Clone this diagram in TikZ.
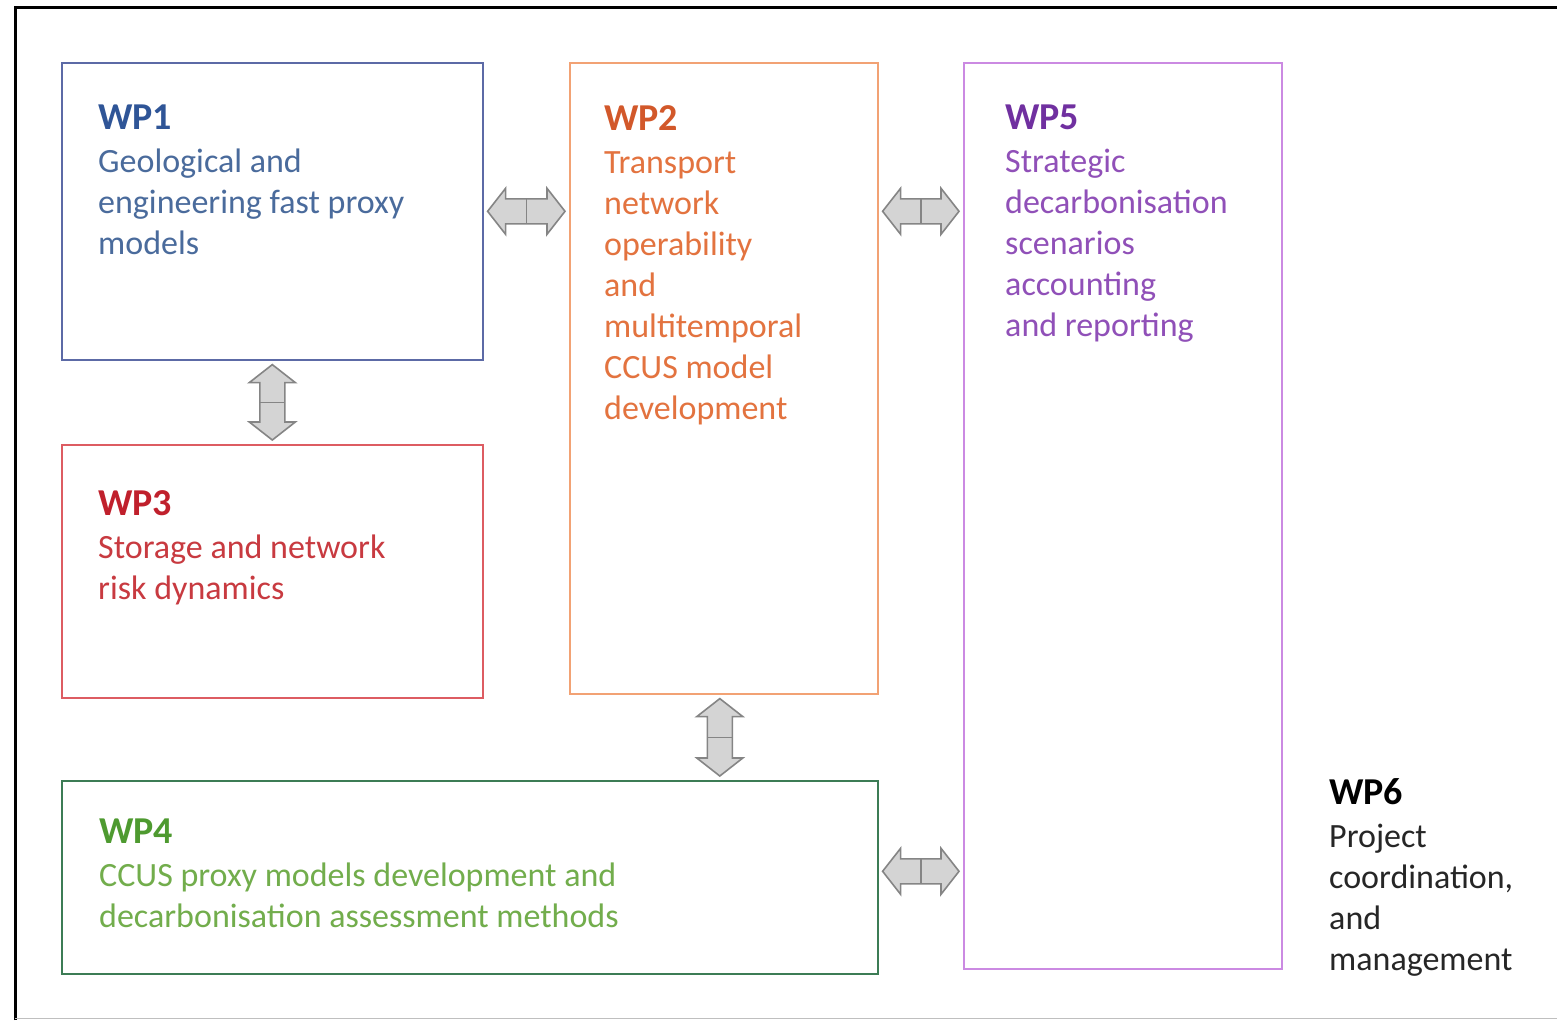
\documentclass[tikz,border=0pt]{standalone}
\usepackage{fontspec}
\setmainfont{Carlito}
\usetikzlibrary{calc}
\definecolor{bOne}{HTML}{5C6AA6}
\definecolor{tOne}{HTML}{2F5597}
\definecolor{sOne}{HTML}{4A6B9C}
\definecolor{bTwo}{HTML}{F2A274}
\definecolor{tTwo}{HTML}{D2582A}
\definecolor{sTwo}{HTML}{E3733F}
\definecolor{bThree}{HTML}{DD5C62}
\definecolor{tThree}{HTML}{C0202C}
\definecolor{sThree}{HTML}{C83A40}
\definecolor{bFour}{HTML}{3C7C55}
\definecolor{tFour}{HTML}{4E9A30}
\definecolor{sFour}{HTML}{72AD4C}
\definecolor{bFive}{HTML}{CB8AE2}
\definecolor{tFive}{HTML}{7030A0}
\definecolor{sFive}{HTML}{9050B8}
\definecolor{arrfill}{HTML}{D4D4D4}
\definecolor{arrline}{HTML}{858585}
\tikzset{
  wpbox/.style={draw, line width=1.6pt, inner sep=0pt, anchor=north west},
  wptext/.style={anchor=north west, inner sep=0pt, align=left,
    font=\fontsize{34}{41}\selectfont},
  blockarr/.style={draw=arrline, fill=arrfill, line width=1.6pt, line join=miter},
  midline/.style={draw=arrline, line width=1.6pt},
}
\newcommand{\wptitle}[1]{{\fontsize{38}{41}\selectfont\bfseries #1}}
% horizontal double block arrow between two points (same y)
\newcommand{\harrow}[2]{%
  \draw[blockarr] let \p1=(#1), \p2=(#2) in
    (\x1+4pt,\y1) -- (\x1+22pt,\y1+23pt) -- (\x1+22pt,\y1+12.5pt)
    -- (\x2-22pt,\y1+12.5pt) -- (\x2-22pt,\y1+23pt) -- (\x2-4pt,\y1)
    -- (\x2-22pt,\y1-23pt) -- (\x2-22pt,\y1-12.5pt) -- (\x1+22pt,\y1-12.5pt)
    -- (\x1+22pt,\y1-23pt) -- cycle;
  \draw[midline] let \p1=(#1), \p2=(#2) in
    ({(\x1+\x2)/2},\y1+12.5pt) -- ({(\x1+\x2)/2},\y1-12.5pt);
}
% vertical double block arrow between two points (same x)
\newcommand{\varrow}[2]{%
  \draw[blockarr] let \p1=(#1), \p2=(#2) in
    (\x1,\y1-4pt) -- (\x1+23pt,\y1-22pt) -- (\x1+12.5pt,\y1-22pt)
    -- (\x1+12.5pt,\y2+22pt) -- (\x1+23pt,\y2+22pt) -- (\x1,\y2+4pt)
    -- (\x1-23pt,\y2+22pt) -- (\x1-12.5pt,\y2+22pt) -- (\x1-12.5pt,\y1-22pt)
    -- (\x1-23pt,\y1-22pt) -- cycle;
  \draw[midline] let \p1=(#1), \p2=(#2) in
    (\x1+12.5pt,{(\y1+\y2)/2}) -- (\x1-12.5pt,{(\y1+\y2)/2});
}
\begin{document}
\begin{tikzpicture}[x=1pt,y=-1pt]
\useasboundingbox (0,0) rectangle (1557,1020);
\fill[white] (0,0) rectangle (1557,1020);
% outer frame
\draw[line width=3pt, black] (15,1020) -- (15,7) -- (1557,7);
\draw[line width=1pt, black!25] (15,1018.5) -- (1557,1018.5);

% boxes
\node[wpbox, draw=bOne, minimum width=421, minimum height=297] (wp1) at (61,62) {};
\node[wpbox, draw=bThree, minimum width=421, minimum height=253] (wp3) at (61,444) {};
\node[wpbox, draw=bTwo, minimum width=308, minimum height=631] (wp2) at (569,62) {};
\node[wpbox, draw=bFive, minimum width=318, minimum height=906] (wp5) at (963,62) {};
\node[wpbox, draw=bFour, minimum width=816, minimum height=193] (wp4) at (61,780) {};

% texts
\node[wptext, text=sOne] (t1) at (98,105) {\textcolor{tOne}{\wptitle{WP1}}\\[2pt]Geological and\\engineering fast proxy\\models};
\node[wptext, text=sTwo] (t2) at (604,105) {\textcolor{tTwo}{\wptitle{WP2}}\\[2pt]Transport\\network\\operability\\and\\multitemporal\\CCUS model\\development};
\node[wptext, text=sFive] (t5) at (1005,105) {\textcolor{tFive}{\wptitle{WP5}}\\[2pt]Strategic\\decarbonisation\\scenarios\\accounting\\and reporting};
\node[wptext, text=sThree] (t3) at (98,490) {\textcolor{tThree}{\wptitle{WP3}}\\[2pt]Storage and network\\risk dynamics};
\node[wptext, text=sFour] (t4) at (99,819) {\textcolor{tFour}{\wptitle{WP4}}\\[2pt]CCUS proxy models development and\\decarbonisation assessment methods};
\node[wptext, text=black!85] (t6) at (1329,778) {\textcolor{black}{\wptitle{WP6}}\\[2pt]Project\\coordination,\\and\\management};

% connectors
\harrow{wp1.east}{wp1.east -| wp2.west}
\harrow{wp1.east -| wp2.east}{wp1.east -| wp5.west}
\harrow{$(wp4.east)+(0,-6)$}{$(wp4.east -| wp5.west)+(0,-6)$}
\varrow{wp1.south}{wp3.north}
\varrow{$(wp2.south)+(-4,0)$}{$(wp2.south |- wp4.north)+(-4,0)$}
\end{tikzpicture}
\end{document}
